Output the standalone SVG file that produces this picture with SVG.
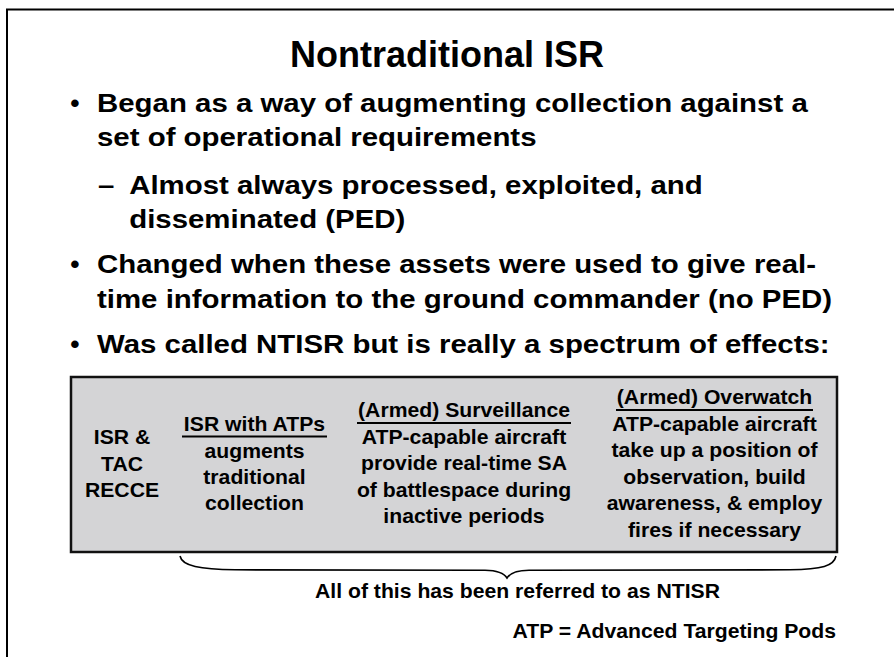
<svg xmlns="http://www.w3.org/2000/svg" width="894" height="657" viewBox="0 0 894 657">
<style>
text{font-family:"Liberation Sans",Arial,Helvetica,sans-serif;font-weight:bold;fill:#000}
.t{font-size:36px}
.b{font-size:26.5px}
.s{font-size:20px}
.u{stroke:#000;stroke-width:2;fill:none}
</style>
<rect width="894" height="657" fill="#fff"/>
<path d="M7,657 V9.5 H894" fill="none" stroke="#000" stroke-width="2"/>
<g id="title"><text class="t" x="447" y="67" text-anchor="middle">Nontraditional ISR</text></g>
<g id="bullets">
<text class="b" x="75" y="112" text-anchor="middle">•</text>
<text class="b" x="75" y="273" text-anchor="middle">•</text>
<text class="b" x="75" y="353" text-anchor="middle">•</text>
<g transform="translate(97,0) scale(1.11,1)">
<text class="b" x="0" y="112">Began as a way of augmenting collection against a</text>
<text class="b" x="0" y="146">set of operational requirements</text>
<text class="b" x="1" y="194">–</text>
<text class="b" x="29" y="194">Almost always processed, exploited, and</text>
<text class="b" x="29" y="228">disseminated (PED)</text>
<text class="b" x="0" y="273">Changed when these assets were used to give real-</text>
<text class="b" x="0" y="308">time information to the ground commander (no PED)</text>
<text class="b" x="0" y="353">Was called NTISR but is really a spectrum of effects:</text>
</g>
</g>
<g id="spectrum">
<rect x="71" y="377" width="766" height="175" fill="#d4d4d6" stroke="#111" stroke-width="2.5"/>
<g id="col1" transform="translate(122,0) scale(1.06,1)">
<text class="s" x="0" y="444" text-anchor="middle">ISR &amp;</text>
<text class="s" x="0" y="471" text-anchor="middle">TAC</text>
<text class="s" x="0" y="497" text-anchor="middle">RECCE</text>
</g>
<g id="col2">
<g transform="translate(254.5,0) scale(1.06,1)">
<text class="s" x="0" y="431" text-anchor="middle">ISR with ATPs</text>
<text class="s" x="0" y="458" text-anchor="middle">augments</text>
<text class="s" x="0" y="484" text-anchor="middle">traditional</text>
<text class="s" x="0" y="510" text-anchor="middle">collection</text>
</g>
<line class="u" x1="182" y1="436.5" x2="327" y2="436.5"/>
</g>
<g id="col3">
<g transform="translate(464,0) scale(1.06,1)">
<text class="s" x="0" y="417" text-anchor="middle">(Armed) Surveillance</text>
<text class="s" x="0" y="444" text-anchor="middle">ATP-capable aircraft</text>
<text class="s" x="0" y="470.5" text-anchor="middle">provide real-time SA</text>
<text class="s" x="0" y="497" text-anchor="middle">of battlespace during</text>
<text class="s" x="0" y="523.5" text-anchor="middle">inactive periods</text>
</g>
<line class="u" x1="357" y1="423" x2="571" y2="423"/>
</g>
<g id="col4">
<g transform="translate(714.5,0) scale(1.06,1)">
<text class="s" x="0" y="404.5" text-anchor="middle">(Armed) Overwatch</text>
<text class="s" x="0" y="431" text-anchor="middle">ATP-capable aircraft</text>
<text class="s" x="0" y="457.5" text-anchor="middle">take up a position of</text>
<text class="s" x="0" y="484" text-anchor="middle">observation, build</text>
<text class="s" x="0" y="510.5" text-anchor="middle">awareness, &amp; employ</text>
<text class="s" x="0" y="537" text-anchor="middle">fires if necessary</text>
</g>
<line class="u" x1="616" y1="410" x2="813" y2="410"/>
</g>
</g>
<g id="connectors">
<path d="M180,556 C182,566 200,569.5 235,569.8 L485,570.2 C498,570.4 504,573 507,578 C510,573 516,570.4 529,570.2 L790,569.8 C822,569.5 834,566 836,556" fill="none" stroke="#000" stroke-width="1.6"/>
</g>
<g id="notes" transform="scale(1.06,1)">
<text class="s" x="488.2" y="598" text-anchor="middle">All of this has been referred to as NTISR</text>
<text class="s" x="788.7" y="638" text-anchor="end">ATP = Advanced Targeting Pods</text>
</g>
</svg>
